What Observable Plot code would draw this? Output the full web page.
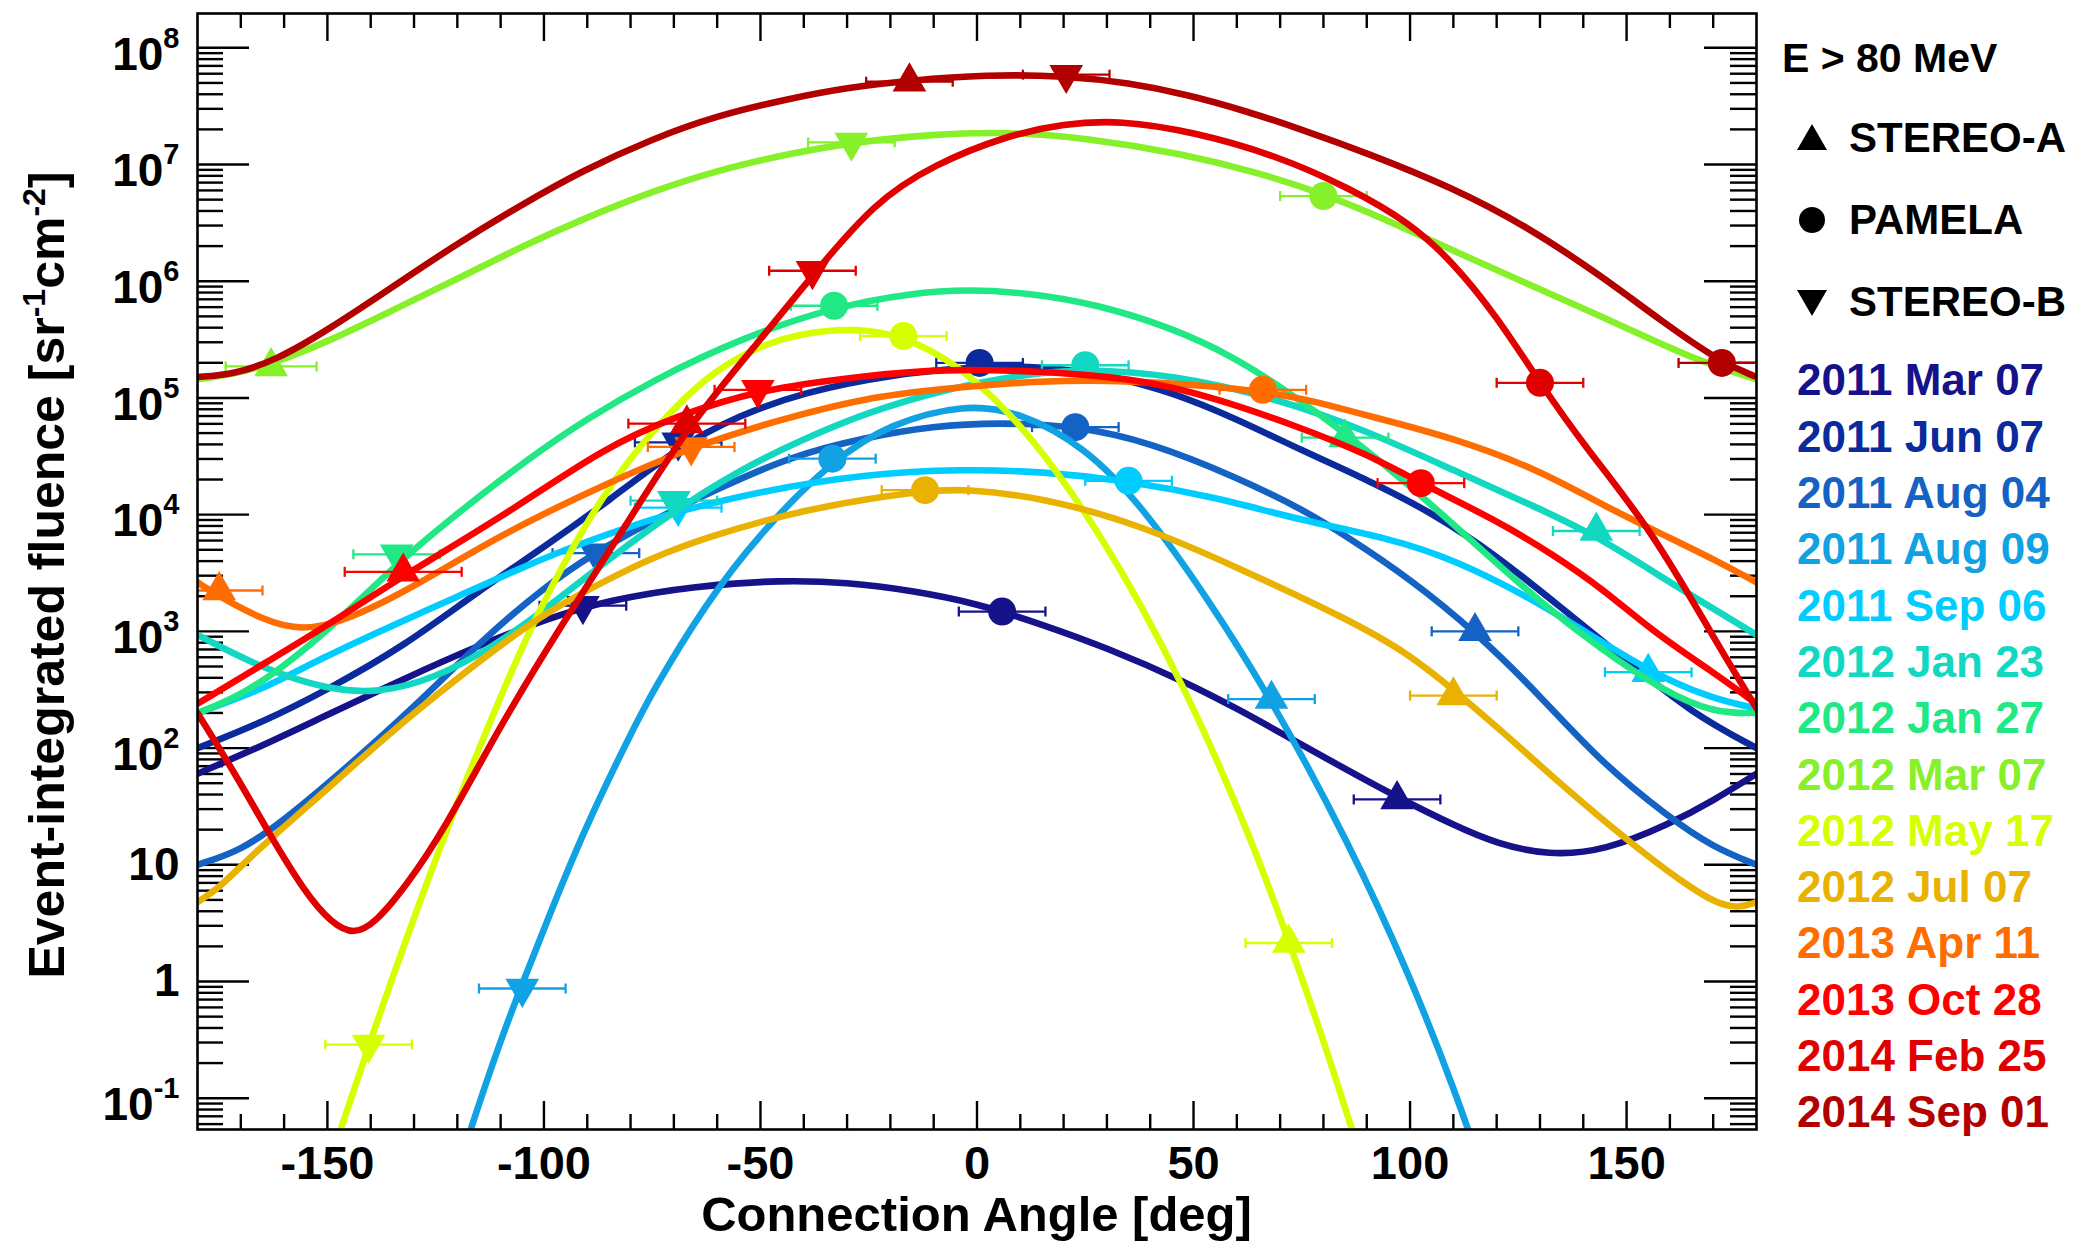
<!DOCTYPE html>
<html>
<head>
<meta charset="utf-8">
<script src="https://cdn.jsdelivr.net/npm/d3@7"></script>
<script src="https://cdn.jsdelivr.net/npm/@observablehq/plot@0.6"></script>
<style>
  html, body { margin: 0; padding: 0; background: #fff; }
  #wrap { position: relative; width: 2092px; height: 1246px; overflow: hidden;
          font-family: "Liberation Sans", Arial, Helvetica, sans-serif; font-weight: bold; }
  #chart { position: absolute; left: 0; top: 0; }
  .leg { position: absolute; white-space: nowrap; line-height: 1; }
</style>
</head>
<body>
<div id="wrap"><div id="chart"></div><div id="legend"></div></div>
<script>
// ---------------- DATA ----------------
const events = ["2011 Mar 07","2011 Jun 07","2011 Aug 04","2011 Aug 09","2011 Sep 06",
  "2012 Jan 23","2012 Jan 27","2012 Mar 07","2012 May 17","2012 Jul 07",
  "2013 Apr 11","2013 Oct 28","2014 Feb 25","2014 Sep 01"];
const colors = ["#15128a","#0b2b9c","#1462c4","#10a2e2","#00cdff",
  "#12d8c2","#1fe884","#86f02a","#d6ff00","#e9b200",
  "#ff6d00","#ff0000","#e00000","#b20000"];

// fitted curves: [connection angle (deg), log10 fluence]
const fit_2011_Mar_07 = [[-180,1.78],[-165,2.02],[-152,2.25],[-132,2.6],[-115,2.88],[-100,3.1],[-85,3.27],[-65,3.39],[-45,3.44],[-30,3.42],[-15,3.35],[0,3.24],[15,3.06],[30,2.86],[48,2.57],[60,2.34],[75,2.03],[86,1.8],[97,1.58],[110,1.34],[120,1.18],[132,1.08],[145,1.12],[160,1.35],[170,1.55],[180,1.78]];
const fit_2011_Jun_07 = [[-180,2.0],[-165,2.22],[-150,2.5],[-132,2.88],[-115,3.35],[-100,3.72],[-85,4.12],[-69,4.58],[-55,4.85],[-40,5.05],[-20,5.2],[0,5.27],[15,5.27],[30,5.2],[45,5.05],[60,4.82],[75,4.55],[90,4.3],[105,4.02],[120,3.65],[135,3.2],[150,2.75],[165,2.3],[180,2.0]];
const fit_2011_Aug_04 = [[-180,1.0],[-170,1.12],[-160,1.38],[-145,1.85],[-130,2.35],[-115,2.9],[-100,3.38],[-88,3.68],[-75,3.95],[-60,4.22],[-43,4.5],[-26,4.66],[-10,4.76],[5,4.79],[23,4.76],[40,4.62],[60,4.32],[75,4.05],[86,3.8],[100,3.45],[115,3.0],[130,2.45],[144,1.88],[160,1.4],[170,1.15],[180,1.0]];
const fit_2011_Aug_09 = [[-121,-1.75],[-117,-1.27],[-110,-0.5],[-105,-0.02],[-100,0.45],[-91,1.28],[-80,2.12],[-75,2.48],[-63,3.22],[-50,3.85],[-33,4.48],[-20,4.78],[-3,4.95],[10,4.88],[25,4.58],[38,4.08],[53,3.3],[68,2.42],[86,1.18],[100,0.05],[111,-1.0],[116,-1.55],[120,-2.0]];
const fit_2011_Sep_06 = [[-180,2.3],[-165,2.5],[-152,2.76],[-135,3.05],[-121,3.28],[-105,3.55],[-91,3.76],[-80,3.9],[-69,4.03],[-50,4.2],[-26,4.35],[-3,4.39],[15,4.37],[35,4.29],[55,4.15],[75,3.95],[95,3.8],[110,3.62],[130,3.25],[155,2.65],[170,2.42],[180,2.34]];
const fit_2012_Jan_23 = [[-180,2.97],[-165,2.68],[-150,2.5],[-138,2.47],[-125,2.6],[-112,2.86],[-100,3.18],[-85,3.62],[-70,4.03],[-55,4.38],[-40,4.65],[-25,4.88],[-8,5.07],[10,5.2],[25,5.25],[45,5.2],[69,5.0],[90,4.72],[110,4.38],[130,4.05],[143,3.82],[160,3.42],[172,3.15],[180,2.97]];
const fit_2012_Jan_27 = [[-180,2.3],[-170,2.45],[-160,2.7],[-148,3.07],[-134,3.58],[-121,3.98],[-110,4.3],[-100,4.57],[-91,4.8],[-75,5.15],[-54,5.52],[-33,5.78],[-15,5.9],[-2,5.93],[12,5.9],[28,5.8],[45,5.6],[59,5.36],[72,5.05],[85,4.7],[100,4.25],[115,3.75],[130,3.25],[144,2.85],[158,2.5],[170,2.3],[180,2.3]];
const fit_2012_Mar_07 = [[-180,5.16],[-172,5.2],[-163,5.29],[-150,5.48],[-135,5.75],[-120,6.02],[-105,6.3],[-90,6.55],[-75,6.77],[-60,6.95],[-45,7.08],[-29,7.19],[-10,7.26],[7,7.28],[25,7.23],[48,7.09],[65,6.93],[80,6.75],[95,6.52],[110,6.26],[127,5.98],[144,5.7],[157,5.48],[168,5.3],[180,5.16]];
const fit_2012_May_17 = [[-152,-1.85],[-147,-1.27],[-140,-0.5],[-132,0.35],[-121,1.45],[-110,2.45],[-101,3.2],[-90,3.95],[-81,4.45],[-70,4.92],[-60,5.25],[-50,5.45],[-40,5.56],[-28,5.6],[-17,5.53],[-5,5.3],[7,4.9],[18,4.4],[28,3.85],[38,3.22],[48,2.5],[56,1.85],[64,1.15],[72,0.35],[80,-0.5],[86,-1.2],[92,-1.9]];
const fit_2012_Jul_07 = [[-180,0.68],[-175,0.8],[-167,1.1],[-150,1.65],[-135,2.15],[-121,2.57],[-101,3.14],[-85,3.45],[-75,3.63],[-63,3.8],[-40,4.05],[-12,4.21],[-3,4.22],[15,4.15],[38,3.91],[60,3.55],[86,3.1],[100,2.8],[110,2.5],[122,2.12],[133,1.75],[144,1.4],[155,1.07],[163,0.85],[171,0.66],[176,0.63],[180,0.68]];
const fit_2013_Apr_11 = [[-180,3.42],[-175,3.3],[-165,3.1],[-156,3.0],[-145,3.1],[-130,3.38],[-110,3.83],[-86,4.26],[-66,4.58],[-45,4.82],[-26,5.0],[-8,5.08],[15,5.15],[35,5.15],[55,5.1],[66,5.05],[75,5.0],[90,4.85],[110,4.66],[130,4.38],[144,4.09],[160,3.8],[170,3.62],[180,3.42]];
const fit_2013_Oct_28 = [[-180,2.38],[-163,2.76],[-150,3.05],[-132.5,3.48],[-110,3.97],[-86,4.58],[-69,4.85],[-50.6,5.07],[-26,5.19],[-8,5.25],[15,5.23],[38,5.16],[55,5.0],[74.5,4.75],[90,4.52],[102.5,4.27],[120,3.95],[133,3.66],[145,3.35],[156,3.0],[170,2.65],[180,2.38]];
const fit_2014_Feb_25 = [[-180,2.3],[-170,1.7],[-164,1.3],[-155,0.75],[-149,0.5],[-144,0.4],[-139,0.5],[-132,0.81],[-123,1.3],[-110,2.2],[-96,3.05],[-81,3.91],[-67,4.75],[-50,5.5],[-38,6.05],[-23.6,6.68],[-10,7.0],[7,7.25],[20,7.35],[33,7.38],[50,7.28],[69,7.08],[86,6.8],[100,6.5],[110,6.16],[120,5.7],[130,5.13],[140,4.6],[156,3.86],[170,2.95],[180,2.34]];
const fit_2014_Sep_01 = [[-180,5.18],[-172,5.2],[-162,5.32],[-150,5.58],[-135,5.95],[-121,6.3],[-105,6.66],[-91,6.95],[-75,7.22],[-60,7.42],[-44,7.56],[-30,7.66],[-15.6,7.72],[2,7.77],[20.6,7.76],[35,7.7],[48.5,7.6],[62,7.46],[75,7.3],[90,7.1],[110,6.8],[127,6.47],[144,6.05],[158,5.66],[172,5.3],[180,5.18]];
const fits = [fit_2011_Mar_07, fit_2011_Jun_07, fit_2011_Aug_04, fit_2011_Aug_09, fit_2011_Sep_06,
  fit_2012_Jan_23, fit_2012_Jan_27, fit_2012_Mar_07, fit_2012_May_17, fit_2012_Jul_07,
  fit_2013_Apr_11, fit_2013_Oct_28, fit_2014_Feb_25, fit_2014_Sep_01];

// measurements: [event, angle (deg), log10 fluence, angle half-error (deg)]
const stereoA = [
  ["2011 Mar 07", 97, 1.56, 10], ["2011 Aug 04", 115, 3.0, 10], ["2011 Aug 09", 68, 2.42, 10],
  ["2011 Sep 06", 155, 2.65, 10], ["2012 Jan 23", 143, 3.86, 10], ["2012 Jan 27", 85, 4.66, 10],
  ["2012 Mar 07", -163, 5.27, 10.5], ["2012 May 17", 72, 0.33, 10], ["2012 Jul 07", 110, 2.45, 10],
  ["2013 Apr 11", -175, 3.35, 10], ["2013 Oct 28", -132.5, 3.51, 13.5], ["2014 Feb 25", -67, 4.78, 13.5],
  ["2014 Sep 01", -15.6, 7.71, 10]
];
const pamela = [
  ["2011 Mar 07", 5.8, 3.17, 10], ["2011 Jun 07", 0.6, 5.3, 10], ["2011 Aug 04", 22.7, 4.75, 10],
  ["2011 Aug 09", -33.4, 4.48, 10], ["2011 Sep 06", 35, 4.29, 10], ["2012 Jan 23", 25, 5.28, 10],
  ["2012 Jan 27", -33, 5.79, 10], ["2012 Mar 07", 80, 6.73, 10], ["2012 May 17", -17, 5.53, 10],
  ["2012 Jul 07", -12, 4.21, 10], ["2013 Apr 11", 66, 5.07, 10], ["2013 Oct 28", 102.5, 4.27, 10],
  ["2014 Feb 25", 130, 5.13, 10], ["2014 Sep 01", 172, 5.30, 10]
];
const stereoB = [
  ["2011 Mar 07", -91, 3.22, 10], ["2011 Jun 07", -69, 4.62, 10], ["2011 Aug 04", -88, 3.67, 10],
  ["2011 Aug 09", -105, -0.06, 10], ["2011 Sep 06", -69, 4.06, 10], ["2012 Jan 23", -70, 4.12, 10],
  ["2012 Jan 27", -134, 3.66, 10], ["2012 Mar 07", -29, 7.19, 10], ["2012 May 17", -140.5, -0.54, 10],
  ["2013 Apr 11", -66, 4.58, 10], ["2013 Oct 28", -50.6, 5.07, 10], ["2014 Feb 25", -38, 6.09, 10],
  ["2014 Sep 01", 20.6, 7.77, 10]
];

// axes
const xMajor = [-150, -100, -50, 0, 50, 100, 150];
const xMinor = [-170,-160,-140,-130,-120,-110,-90,-80,-70,-60,-40,-30,-20,-10,10,20,30,40,60,70,80,90,110,120,130,140,160,170];
const yDecades = [1e-1, 1, 10, 1e2, 1e3, 1e4, 1e5, 1e6, 1e7, 1e8];
const yLabels = ["10^-1", "1", "10", "10^2", "10^3", "10^4", "10^5", "10^6", "10^7", "10^8"];
const xLabel = "Connection Angle [deg]";
const energyLabel = "E > 80 MeV";
const detectorLabels = ["STEREO-A", "PAMELA", "STEREO-B"];

// ---------------- CHART ----------------
const W = 1770, H = 1246, mL = 197, mR = 14, mT = 13, mB = 117;
const innerW = W - mL - mR, innerH = H - mT - mB;
const yDomain = [10 ** -1.268, 10 ** 8.294];
const yMinor = [0.01, ...yDecades].flatMap(d => [2,3,4,5,6,7,8,9].map(m => m * d))
  .filter(v => v > yDomain[0] && v < yDomain[1]);

const sqrt3 = Math.sqrt(3);
const triDown = { draw(ctx, size) {
  const y = -Math.sqrt(size / (sqrt3 * 3));
  ctx.moveTo(0, -y * 2); ctx.lineTo(-sqrt3 * y, y); ctx.lineTo(sqrt3 * y, y); ctx.closePath();
}};
const capSym = { draw(ctx, size) {
  const h = Math.sqrt(size / Math.PI);
  ctx.moveTo(0, -h); ctx.lineTo(0, h);
}};

const toPt = ([name, a, l, e]) => ({name, a, f: 10 ** l, e});

const eventMarks = events.flatMap((name, i) => {
  const c = colors[i];
  const fit = fits[i].map(([a, l]) => ({a, f: 10 ** l}));
  const A = stereoA.filter(d => d[0] === name).map(toPt);
  const P = pamela.filter(d => d[0] === name).map(toPt);
  const B = stereoB.filter(d => d[0] === name).map(toPt);
  const all = [...A, ...P, ...B];
  return [
    Plot.line(fit, {x: "a", y: "f", stroke: c, strokeWidth: 6.6, curve: "basis", clip: true, strokeLinejoin: "round"}),
    Plot.ruleY(all, {y: "f", x1: d => d.a - d.e, x2: d => d.a + d.e, stroke: c, strokeWidth: 2.3, clip: true}),
    Plot.dot(all, {x: d => d.a - d.e, y: "f", symbol: capSym, r: 5, stroke: c, strokeWidth: 2.3, fill: "none", clip: true}),
    Plot.dot(all, {x: d => d.a + d.e, y: "f", symbol: capSym, r: 5, stroke: c, strokeWidth: 2.3, fill: "none", clip: true}),
    Plot.dot(A, {x: "a", y: "f", symbol: "triangle", r: 12.5, fill: c, stroke: "none"}),
    Plot.dot(P, {x: "a", y: "f", symbol: "circle", r: 14, fill: c, stroke: "none"}),
    Plot.dot(B, {x: "a", y: "f", symbol: triDown, r: 12.5, fill: c, stroke: "none"})
  ];
});

const chart = Plot.plot({
  width: W, height: H,
  marginLeft: mL, marginRight: mR, marginTop: mT, marginBottom: mB,
  style: {fontFamily: '"Liberation Sans", Arial, Helvetica, sans-serif', fontWeight: "bold",
          fontSize: "46px", color: "black", background: "white", overflow: "visible"},
  x: {domain: [-180, 180], axis: null},
  y: {type: "log", domain: yDomain, axis: null},
  marks: [
    // inward ticks on all four sides
    Plot.tickX(xMajor, {x: d => d, insetTop: innerH - 28, stroke: "black", strokeWidth: 2.4}),
    Plot.tickX(xMajor, {x: d => d, insetBottom: innerH - 28, stroke: "black", strokeWidth: 2.4}),
    Plot.tickX(xMinor, {x: d => d, insetTop: innerH - 15, stroke: "black", strokeWidth: 2.4}),
    Plot.tickX(xMinor, {x: d => d, insetBottom: innerH - 15, stroke: "black", strokeWidth: 2.4}),
    Plot.tickY(yDecades, {y: d => d, insetRight: innerW - 52, stroke: "black", strokeWidth: 2.4}),
    Plot.tickY(yDecades, {y: d => d, insetLeft: innerW - 52, stroke: "black", strokeWidth: 2.4}),
    Plot.tickY(yMinor, {y: d => d, insetRight: innerW - 26, stroke: "black", strokeWidth: 2.4}),
    Plot.tickY(yMinor, {y: d => d, insetLeft: innerW - 26, stroke: "black", strokeWidth: 2.4}),
    // tick labels
    Plot.text(xMajor, {x: d => d, text: d => String(d), frameAnchor: "bottom", lineAnchor: "top", dy: 16, fontSize: 47, fill: "black"}),
    Plot.text(yDecades, {y: d => d, text: (d, i) => yLabels[i], frameAnchor: "left", textAnchor: "end", dx: -18, fontSize: 46, fill: "black"}),
    ...eventMarks,
    Plot.frame({stroke: "black", strokeWidth: 2.6})
  ]
});
document.getElementById("chart").appendChild(chart);

// superscripts on the log tick labels
const svg = d3.select(chart);
svg.selectAll("text").each(function () {
  const t = this.textContent;
  if (t.startsWith("10^")) {
    const [base, exp] = t.split("^");
    const s = d3.select(this);
    s.text(null);
    s.append("tspan").attr("dy", 7).text(base);
    s.append("tspan").attr("dy", -22).attr("font-size", 29).text(exp);
  }
});

// axis titles
const xs = chart.scale("x");
svg.append("text").attr("x", xs.apply(0)).attr("y", 1231).attr("text-anchor", "middle")
  .attr("font-size", 49).attr("fill", "black").text(xLabel);
const yt = svg.append("text").attr("transform", `translate(64,${mT + innerH / 2 + 4}) rotate(-90)`)
  .attr("text-anchor", "middle").attr("font-size", 50).attr("fill", "black");
yt.append("tspan").text("Event-integrated fluence [sr");
yt.append("tspan").attr("dy", -19).attr("font-size", 32).text("-1");
yt.append("tspan").attr("dy", 19).text("cm");
yt.append("tspan").attr("dy", -19).attr("font-size", 32).text("-2");
yt.append("tspan").attr("dy", 19).text("]");

// ---------------- LEGEND ----------------
const leg = document.getElementById("legend");
function addText(txt, left, cy, fs, color) {
  const d = document.createElement("div");
  d.className = "leg";
  d.style.left = left + "px";
  d.style.top = (cy - 0.49 * fs) + "px";
  d.style.fontSize = fs + "px";
  d.style.color = color;
  d.textContent = txt;
  leg.appendChild(d);
}
function addMarker(kind, cx, cy) {
  const ns = "http://www.w3.org/2000/svg";
  const s = document.createElementNS(ns, "svg");
  s.setAttribute("width", 36); s.setAttribute("height", 36);
  s.style.position = "absolute"; s.style.left = (cx - 18) + "px"; s.style.top = (cy - 18) + "px";
  let el;
  if (kind === "circle") {
    el = document.createElementNS(ns, "circle");
    el.setAttribute("cx", 18); el.setAttribute("cy", 18); el.setAttribute("r", 13);
  } else {
    el = document.createElementNS(ns, "polygon");
    el.setAttribute("points", kind === "up" ? "18,4 33,30 3,30" : "18,32 33,6 3,6");
  }
  el.setAttribute("fill", "black");
  s.appendChild(el);
  leg.appendChild(s);
}
addText(energyLabel, 1782, 58, 41, "black");
const detY = [138, 220, 302];
["up", "circle", "down"].forEach((k, i) => { addMarker(k, 1812, detY[i]); addText(detectorLabels[i], 1849, detY[i], 42, "black"); });
events.forEach((e, i) => addText(e, 1797, 380 + 56.3 * i, 44, colors[i]));
</script>
</body>
</html>
